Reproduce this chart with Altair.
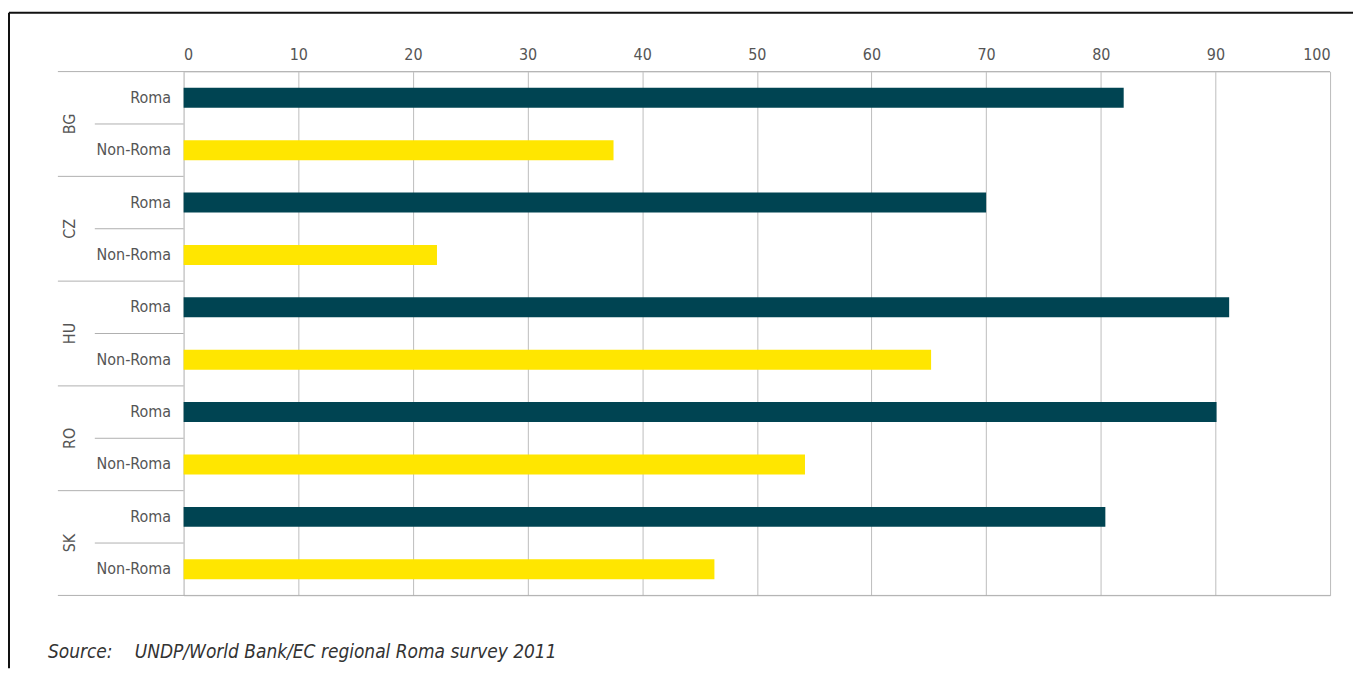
import altair as alt
import pandas as pd

groups = ["BG", "CZ", "HU", "RO", "SK"]
subgroups = ["Roma", "Non-Roma"]
roma = [82.0, 70.0, 91.2, 90.1, 80.4]
non_roma = [37.5, 22.1, 65.2, 54.2, 46.3]
x_ticks = [0, 10, 20, 30, 40, 50, 60, 70, 80, 90, 100]
source_label = "Source:"
source_text = "UNDP/World Bank/EC regional Roma survey 2011"

rows = []
for g, r, n in zip(groups, roma, non_roma):
    rows.append({"group": g, "sub": "Roma", "key": g + "|Roma", "value": r})
    rows.append({"group": g, "sub": "Non-Roma", "key": g + "|Non-Roma", "value": n})
df = pd.DataFrame(rows)
order = list(df["key"])

W, H = 1149, 525
FONT = "Liberation Sans Narrow, DejaVu Sans Condensed, sans-serif"
TEAL = "#004452"
YELLOW = "#FFE600"
LABEL = "#555555"
SEP = "#b0b0b0"

yscale = alt.Scale(domain=order, paddingInner=0, paddingOuter=0)
yaxis = alt.Axis(labelExpr="split(datum.label, '|')[1]", title=None, ticks=False,
                 domain=False, labelPadding=13, labelFontSize=16, labelColor=LABEL,
                 labelFont=FONT, grid=False)


def Y(band=None):
    if band is None:
        return alt.Y("key:N", sort=order, scale=yscale, axis=yaxis)
    return alt.Y("key:N", sort=order, scale=yscale, axis=yaxis, bandPosition=band)


xscale = alt.Scale(domain=[0, 100], nice=False)
xaxis = alt.Axis(orient="top", values=x_ticks, title=None, ticks=False, domain=False,
                 labelPadding=9, labelFontSize=16, labelColor=LABEL, labelFont=FONT,
                 grid=True, gridColor="#bdbdbd", gridWidth=1)

bars = alt.Chart(df).mark_bar(size=20).encode(
    x=alt.X("value:Q", scale=xscale, axis=xaxis),
    y=Y(),
    color=alt.Color("sub:N", scale=alt.Scale(domain=subgroups, range=[TEAL, YELLOW]), legend=None),
)

roma_rows = df[df["sub"] == "Roma"]
group_sep_rows = df[(df["sub"] == "Non-Roma") & (df["group"] != groups[-1])]

sub_sep = alt.Chart(roma_rows).mark_rule(color=SEP, strokeWidth=1).encode(
    y=Y(1), x=alt.value(-89), x2=alt.value(0))
grp_sep = alt.Chart(group_sep_rows).mark_rule(color=SEP, strokeWidth=1).encode(
    y=Y(1), x=alt.value(-126), x2=alt.value(0))

group_labels = alt.Chart(roma_rows).mark_text(
    angle=270, align="center", baseline="middle", fontSize=16, color=LABEL, font=FONT
).encode(y=Y(1), x=alt.value(-114), text="group:N")

one = pd.DataFrame({"a": [1]})
top_line = alt.Chart(one).mark_rule(color=SEP, strokeWidth=1).encode(
    y=alt.value(0), x=alt.value(-126), x2=alt.value(W))
bottom_line = alt.Chart(one).mark_rule(color=SEP, strokeWidth=1).encode(
    y=alt.value(H), x=alt.value(-126), x2=alt.value(W))

frame_top = alt.Chart(one).mark_rule(color="#111111", strokeWidth=2).encode(
    y=alt.value(-59), x=alt.value(-175), x2=alt.value(1172))
frame_left = alt.Chart(one).mark_rule(color="#111111", strokeWidth=2).encode(
    x=alt.value(-175), y=alt.value(-59), y2=alt.value(H + 73))

src1 = alt.Chart(one).mark_text(
    align="left", baseline="alphabetic", fontSize=19, fontStyle="italic", color="#333333", font=FONT
).encode(x=alt.value(-136), y=alt.value(H + 63), text=alt.value(source_label))
src2 = alt.Chart(one).mark_text(
    align="left", baseline="alphabetic", fontSize=19, fontStyle="italic", color="#333333", font=FONT
).encode(x=alt.value(-49), y=alt.value(H + 63), text=alt.value(source_text))

chart = alt.layer(
    bars, sub_sep, grp_sep, group_labels, top_line, bottom_line, frame_top, frame_left, src1, src2
).properties(
    width=W, height=H, padding={"left": 0, "top": 3, "right": 0, "bottom": 0}
).configure_view(stroke=None).configure(background="white")

chart.save("out.html", embed_options={"renderer": "svg", "actions": False})
